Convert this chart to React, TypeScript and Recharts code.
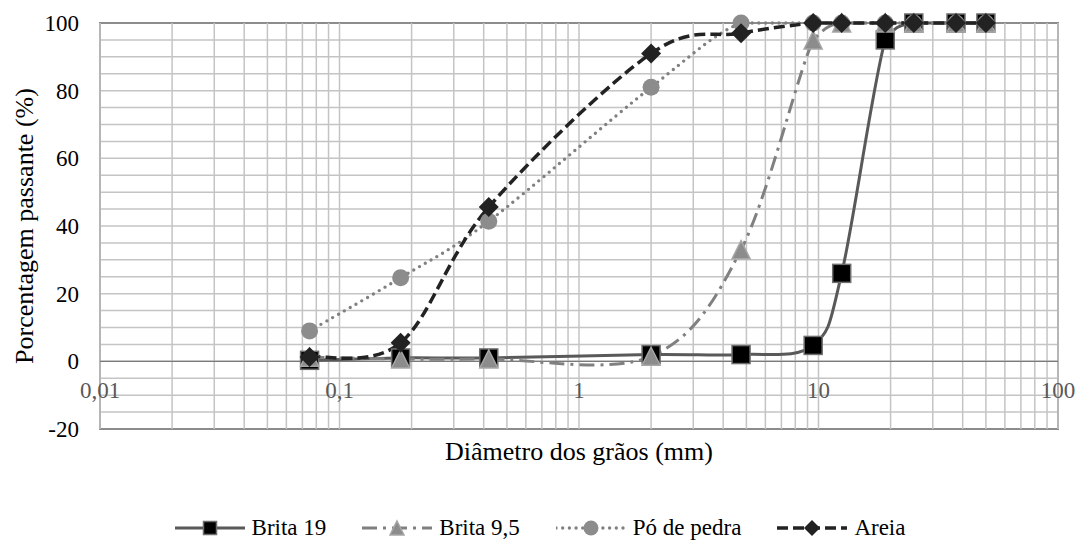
import React from 'react';
import {
  LineChart,
  Line,
  XAxis,
  YAxis,
  CartesianGrid,
  ReferenceLine,
  ReferenceDot,
  ReferenceArea,
  Legend,
} from 'recharts';

document.body.style.margin = '0';

// sieve openings (mm) and % passing per material
const sieves = [0.075, 0.18, 0.42, 2, 4.75, 9.5, 12.5, 19, 25, 37.5, 50];
const brita19 = [0.3, 1, 1, 2, 2, 4.7, 26, 95, 100, 100, 100];
const brita95 = [1.2, 0.7, 0.7, 1.5, 33, 95, 100, 100, 100, 100, 100];
const poDePedra = [9, 24.7, 41.4, 81, 100, 100, 100, 100, 100, 100, 100];
const areia = [1.3, 5.5, 45.6, 91, 97, 100, 100, 100, 100, 100, 100];

// axes
const decades = [0.01, 0.1, 1, 10, 100];
const decadeLabels = ['0,01', '0,1', '1', '10', '100'];
const gridMultipliers = [1, 2, 3, 4, 5, 6, 7, 8, 9];
const yTicks = [-20, -15, -10, -5, 0, 5, 10, 15, 20, 25, 30, 35, 40, 45, 50, 55, 60, 65, 70, 75, 80, 85, 90, 95, 100];
const yLabelStep = 20;

const xGrid = decades
  .slice(0, -1)
  .flatMap((d) => gridMultipliers.map((m) => +(d * m).toPrecision(3)))
  .concat([100]);

const data = sieves.map((d, i) => ({
  d,
  b19: brita19[i],
  b95: brita95[i],
  po: poDePedra[i],
  areia: areia[i],
}));

const FONT = 'Liberation Serif, DejaVu Serif, serif';

const series = [
  { key: 'b19', name: 'Brita 19', stroke: '#595959', width: 3, dash: undefined, cap: 'butt', marker: 'square' },
  { key: 'b95', name: 'Brita 9,5', stroke: '#808080', width: 3, dash: '15 6 3 6', cap: 'butt', marker: 'triangle' },
  { key: 'po', name: 'Pó de pedra', stroke: '#808080', width: 3.4, dash: '0 6.7', cap: 'round', marker: 'circle' },
  { key: 'areia', name: 'Areia', stroke: '#222222', width: 3.5, dash: '11 5', cap: 'butt', marker: 'diamond' },
];

// Excel-like smoothed line (Catmull-Rom as cubic bezier), no bulge above the highest point
function smoothCurve(context: any) {
  let pts: number[][] = [];
  return {
    areaStart() {},
    areaEnd() {},
    lineStart() {
      pts = [];
    },
    point(x: number, y: number) {
      pts.push([+x, +y]);
    },
    lineEnd() {
      const n = pts.length;
      if (!n) return;
      const top = Math.min(...pts.map((p) => p[1]));
      context.moveTo(pts[0][0], pts[0][1]);
      for (let i = 0; i < n - 1; i++) {
        const p0 = pts[i - 1] || pts[i];
        const p1 = pts[i];
        const p2 = pts[i + 1];
        const p3 = pts[i + 2] || p2;
        context.bezierCurveTo(
          p1[0] + (p2[0] - p0[0]) / 6,
          Math.max(top, p1[1] + (p2[1] - p0[1]) / 6),
          p2[0] - (p3[0] - p1[0]) / 6,
          Math.max(top, p2[1] - (p3[1] - p1[1]) / 6),
          p2[0],
          p2[1]
        );
      }
    },
  };
}

function Marker({ kind, cx, cy, s }: { kind: string; cx: number; cy: number; s: number }) {
  const h = s / 2;
  if (kind === 'square') {
    return <rect x={cx - h} y={cy - h} width={s} height={s} fill="#000" stroke="#6e6e6e" strokeWidth={1.5} />;
  }
  if (kind === 'triangle') {
    return (
      <polygon
        points={`${cx},${cy - h} ${cx + h},${cy + h} ${cx - h},${cy + h}`}
        fill="#8c8c8c"
        stroke="#a6a6a6"
        strokeWidth={1.5}
      />
    );
  }
  if (kind === 'circle') {
    return <circle cx={cx} cy={cy} r={h} fill="#8c8c8c" />;
  }
  return (
    <polygon
      points={`${cx},${cy - h} ${cx + h},${cy} ${cx},${cy + h} ${cx - h},${cy}`}
      fill="#222222"
    />
  );
}

const plotSize: Record<string, number> = { square: 18, triangle: 18, circle: 17, diamond: 20 };
const legendSize: Record<string, number> = { square: 13, triangle: 14, circle: 15, diamond: 16 };

function LegendContent() {
  return (
    <div
      style={{
        display: 'flex',
        justifyContent: 'center',
        alignItems: 'center',
        height: 24,
        fontFamily: FONT,
        fontSize: 23,
        color: '#000',
      }}
    >
      {series.map((s, i) => (
        <div
          key={s.key}
          style={{ display: 'flex', alignItems: 'center', marginRight: i < series.length - 1 ? 36 : 0 }}
        >
          <svg width={70} height={24}>
            <line
              x1={0}
              x2={70}
              y1={12}
              y2={12}
              stroke={s.stroke}
              strokeWidth={s.width}
              strokeDasharray={s.dash}
              strokeLinecap={s.cap as any}
            />
            <Marker kind={s.marker} cx={35} cy={12} s={legendSize[s.marker]} />
          </svg>
          <span style={{ marginLeft: 7, lineHeight: '24px', fontFamily: FONT }}>{s.name}</span>
        </div>
      ))}
    </div>
  );
}

function YTitle(props: any) {
  const vb = props.viewBox;
  const x = vb.x + 33;
  const y = vb.y + vb.height / 2;
  return (
    <text
      x={x}
      y={y}
      transform={`rotate(-90, ${x}, ${y})`}
      textAnchor="middle"
      fontFamily={FONT}
      fontSize={26}
      fill="#000"
    >
      Porcentagem passante (%)
    </text>
  );
}

function XTitle(props: any) {
  const vb = props.viewBox;
  return (
    <text x={vb.x + vb.width / 2} y={vb.y + 31} textAnchor="middle" fontFamily={FONT} fontSize={26} fill="#000">
      Diâmetro dos grãos (mm)
    </text>
  );
}

function YTick(props: any) {
  const { x, y, payload } = props;
  if (payload.value % yLabelStep !== 0) return null;
  return (
    <text x={x} y={y} dy={8} textAnchor="end" fontFamily={FONT} fontSize={23} fill="#000">
      {payload.value}
    </text>
  );
}

export default function App() {
  return (
    <div style={{ width: 1080, height: 540, background: '#fff', fontFamily: FONT }}>
      <LineChart width={1080} height={540} data={data} margin={{ top: 23, right: 22, left: 0, bottom: 47 }}>
        <CartesianGrid stroke="#c4c4c4" strokeWidth={1.5} vertical={false} />
        <XAxis
          dataKey="d"
          type="number"
          scale="log"
          domain={[0.01, 100]}
          ticks={decades}
          allowDataOverflow
          tick={false}
          tickLine={false}
          axisLine={false}
          height={40}
          label={{ content: XTitle }}
        />
        <YAxis
          type="number"
          domain={[-20, 100]}
          ticks={yTicks}
          interval={0}
          width={100}
          tickSize={0}
          tickMargin={21}
          tickLine={false}
          axisLine={false}
          tick={<YTick />}
          label={{ content: YTitle }}
        />
        {xGrid.map((g) => (
          <ReferenceLine key={`vg-${g}`} x={g} stroke="#c4c4c4" strokeWidth={1.5} ifOverflow="visible" />
        ))}
        <ReferenceArea
          x1={0.01}
          x2={100}
          y1={-20}
          y2={100}
          fill="none"
          fillOpacity={0}
          stroke="#8c8c8c"
          strokeWidth={2}
          ifOverflow="visible"
        />
        <ReferenceLine y={0} stroke="#7a7a7a" strokeWidth={1.2} />
        {decades.map((d, i) => (
          <ReferenceDot
            key={`dl-${d}`}
            x={d}
            y={0}
            r={1}
            fill="none"
            stroke="none"
            ifOverflow="visible"
            label={{
              content: (p: any) => (
                <text
                  x={p.viewBox.x + p.viewBox.width / 2}
                  y={p.viewBox.y + p.viewBox.height / 2 + 37}
                  textAnchor="middle"
                  fontFamily={FONT}
                  fontSize={23}
                  fill="#595959"
                >
                  {decadeLabels[i]}
                </text>
              ),
            }}
          />
        ))}
        {series.map((s) => (
          <Line
            key={s.key}
            dataKey={s.key}
            name={s.name}
            type={smoothCurve as any}
            stroke={s.stroke}
            strokeWidth={s.width}
            strokeDasharray={s.dash}
            strokeLinecap={s.cap as any}
            dot={(p: any) => (
              <Marker key={`${s.key}-${p.index}`} kind={s.marker} cx={p.cx} cy={p.cy} s={plotSize[s.marker]} />
            )}
            activeDot={false}
            isAnimationActive={false}
          />
        ))}
        <Legend
          verticalAlign="bottom"
          content={LegendContent}
          wrapperStyle={{ position: 'absolute', top: 516, bottom: 'auto', left: 0, width: 1080, height: 24 }}
        />
      </LineChart>
    </div>
  );
}
